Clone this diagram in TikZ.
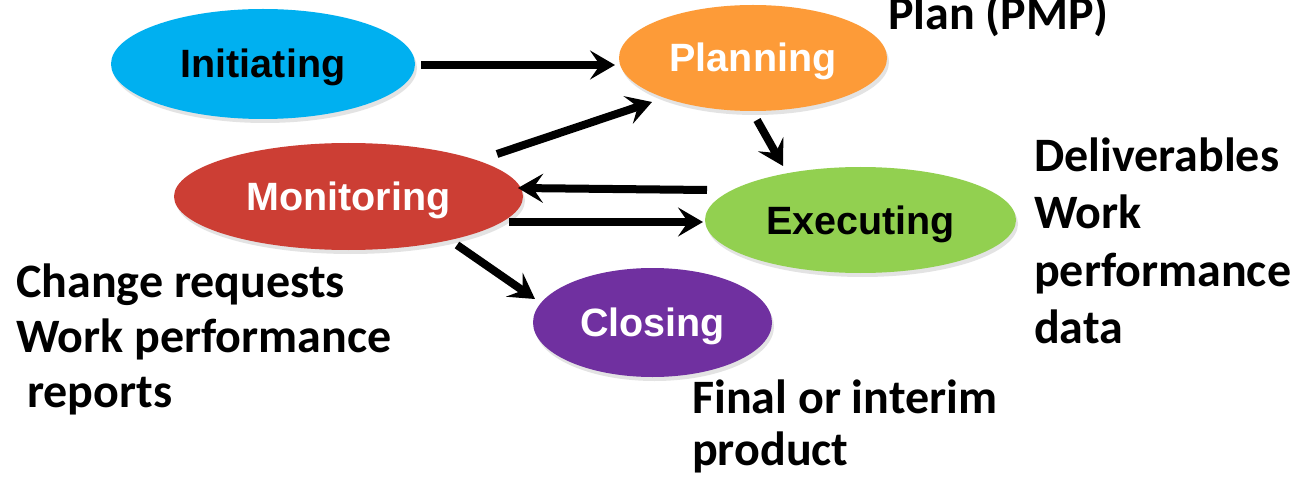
\documentclass[tikz,border=0pt]{standalone}
\usepackage{fontspec}
\setmainfont{Liberation Sans}
\newfontfamily\calibfont{Carlito}
\usetikzlibrary{shapes.geometric,arrows.meta,calc,shadows}
\definecolor{cInit}{RGB}{0,176,240}
\definecolor{cPlan}{RGB}{253,155,56}
\definecolor{cMon}{RGB}{204,62,52}
\definecolor{cExec}{RGB}{146,208,80}
\definecolor{cClose}{RGB}{112,48,160}
\begin{document}
\begin{tikzpicture}[x=1pt,y=-1pt,
  phase/.style={ellipse, inner sep=0pt, text height=28pt, text depth=0pt,
    font=\bfseries\fontsize{39.5}{47}\selectfont,
    drop shadow={shadow xshift=2pt,shadow yshift=-4pt,opacity=0.22}},
  arr/.style={line width=8pt, -{Stealth[length=25pt,width=29pt,inset=10pt]}},
  lbl/.style={anchor=base west, inner sep=0pt,
    font=\calibfont\bfseries\fontsize{48}{56}\selectfont}]
\useasboundingbox (0,0) rectangle (1311,481);
\fill[white] (0,0) rectangle (1311,481);

\node[phase, fill=cInit, text=black, minimum width=304pt, minimum height=110pt] (init) at (263,64) {Initiating};
\node[phase, fill=cPlan, text=white, minimum width=268pt, minimum height=106pt] (plan) at (753,58) {Planning};
\node[phase, fill=cMon, text=white, minimum width=349pt, minimum height=107pt] (mon) at (348.5,196.5) {Monitoring};
\node[phase, fill=cExec, text=black, minimum width=311pt, minimum height=106pt] (exec) at (860.5,220) {Executing};
\node[phase, fill=cClose, text=white, minimum width=239pt, minimum height=109pt] (close) at (652.5,322.5) {Closing};

\draw[arr] ($(init)+(158,1)$) -- ($(plan)+(-138,7)$);
\draw[arr] ($(mon)+(148.5,-42.5)$) -- ($(plan)+(-101,44)$);
\draw[arr] ($(plan)+(4,62)$) -- ($(exec)+(-77.5,-54)$);
\draw[arr] ($(exec)+(-153.5,-30)$) -- ($(mon)+(169.5,-8.5)$);
\draw[arr] ($(mon)+(160.5,25.5)$) -- ($(exec)+(-157.5,2)$);
\draw[arr] ($(mon)+(108.5,48.5)$) -- ($(close)+(-117.5,-23.5)$);

\node[lbl] (pmp) at (888,30) {Plan (PMP)};
\node[lbl] (del1) at (1034,172) {Deliverables};
\node[lbl] (del2) at (1034,229) {Work};
\node[lbl] (del3) at (1034,286) {performance};
\node[lbl] (del4) at (1034,343) {data};
\node[lbl] (chg1) at (16,297) {Change requests};
\node[lbl] (chg2) at (16,352) {Work performance};
\node[lbl] (chg3) at (27,407) {reports};
\node[lbl] (fin1) at (692,413) {Final or interim};
\node[lbl] (fin2) at (692,465) {product};
\end{tikzpicture}
\end{document}
